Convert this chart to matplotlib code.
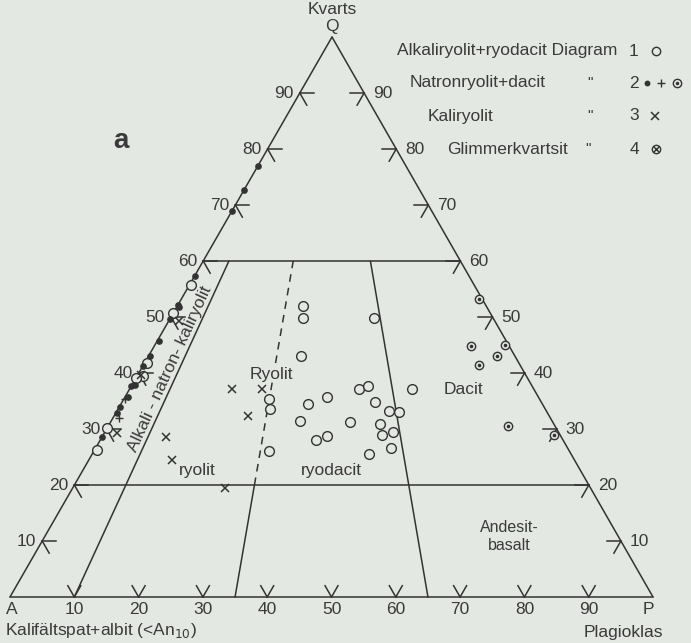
import matplotlib
matplotlib.use("Agg")
import matplotlib.pyplot as plt
import numpy as np

plt.rcParams['font.family'] = ['Liberation Sans', 'DejaVu Sans']

# ---------------- data (Q %, P %) ; A = 100 - Q - P ----------------
# 1: Alkaliryolit + ryodacit (open circles)
alk_Q = [52.0, 49.9, 49.9, 43.0, 35.3, 33.5, 26.1, 34.4, 35.7, 31.5, 28.0, 28.75,
         37.1, 37.6, 37.1, 34.8, 33.2, 33.0, 31.3, 30.9, 29.5, 29.0, 26.6, 25.5,
         55.8, 50.7, 41.8, 39.5, 39.05, 30.1, 26.3]
alk_P = [19.5, 20.6, 31.6, 23.8, 22.6, 23.7, 27.2, 29.1, 31.4, 29.4, 33.5, 34.9,
         35.7, 36.9, 43.9, 39.4, 42.3, 44.0, 37.2, 42.0, 44.8, 43.4, 46.0, 43.0,
         0.2, 0.0, 0.3, 0.9, 0.0, 0.0, 0.3]
# 2: Natronryolit + dacit (filled dots, plus, dotted circles)
nat_dot_Q = [77.0, 72.7, 69.0, 57.3, 52.1, 51.8, 49.6, 45.8, 43.0, 41.25, 37.9,
             37.6, 35.8, 34.0, 32.8, 28.6]
nat_dot_P = [0.0, 0.0, 0.0, 0.0, 0.0, 0.4, 0.0, 0.3, 0.2, 0.0, 0.5,
             0.0, 0.5, 0.1, 0.2, 0.0]
nat_plus_Q = [31.9, 35.3]
nat_plus_P = [0.9, 0.2]
dac_Q = [53.2, 44.8, 45.0, 43.1, 41.5, 30.6, 29.0]
dac_P = [46.3, 49.3, 54.4, 54.2, 52.2, 62.2, 70.1]
# 3: Kaliryolit (crosses)
kali_Q = [37.1, 37.1, 32.4, 29.2, 28.6, 24.5, 19.5, 39.6, 49.2]
kali_P = [15.9, 20.6, 20.8, 2.0, 9.9, 12.9, 23.7, 0.5, 1.7]

tick_vals = [10, 20, 30, 40, 50, 60, 70, 80, 90]

# ---------------- geometry ----------------
VA = np.array([10.0, 597.0])
VP = np.array([653.0, 597.0])
VQ = np.array([332.0, 37.0])

def tern(q, p):
    q = np.asarray(q, float); p = np.asarray(p, float)
    a = 100.0 - q - p
    x = (a * VA[0] + p * VP[0] + q * VQ[0]) / 100.0
    y = (a * VA[1] + p * VP[1] + q * VQ[1]) / 100.0
    return x, y

def unit(v):
    return v / np.linalg.norm(v)

BG = '#e4e8e2'
LC = '#333333'
TC = '#3a3a3a'
FS = 12.5

fig = plt.figure(figsize=(6.91, 6.43), dpi=100, facecolor=BG)
ax = fig.add_axes([0, 0, 1, 1])
ax.set_facecolor(BG)
ax.set_xlim(0, 691)
ax.set_ylim(643, 0)
ax.axis('off')

lw = 1.1

def seg(q1, p1, q2, p2, **kw):
    x1, y1 = tern(q1, p1); x2, y2 = tern(q2, p2)
    ax.plot([x1, x2], [y1, y2], color=LC, lw=kw.pop('lw', lw), solid_capstyle='round', **kw)

# triangle
seg(0, 0, 0, 100); seg(0, 100, 100, 0); seg(100, 0, 0, 0)
# field boundaries
seg(60, 0, 60, 40)
seg(20, 0, 20, 80)
seg(0, 10, 60, 4)
seg(0, 35, 20, 28)
seg(20, 28, 60, 14, linestyle=(0, (5, 4)))
seg(0, 65, 60, 26)

# ticks
tl = 14
dAP = unit(VP - VA); dQP = unit(VP - VQ); dQA = unit(VA - VQ)
dAQ = unit(VQ - VA); dPQ = unit(VQ - VP); dPA = unit(VA - VP)
for v in tick_vals:
    # left side
    x, y = tern(v, 0)
    for d in (dAP, dQP):
        ax.plot([x, x + tl * d[0]], [y, y + tl * d[1]], color=LC, lw=lw)
    ax.text(x - 6, y, str(v), ha='right', va='center', fontsize=FS, color=TC)
    # right side
    x, y = tern(v, 100 - v)
    for d in (dPA, dQA):
        ax.plot([x, x + tl * d[0]], [y, y + tl * d[1]], color=LC, lw=lw)
    ax.text(x + 9, y, str(v), ha='left', va='center', fontsize=FS, color=TC)
    # bottom
    x, y = tern(0, v)
    for d in (dAQ, dPQ):
        ax.plot([x, x + 13 * d[0]], [y, y + 13 * d[1]], color=LC, lw=lw)
    ax.text(x, y + 5, str(v), ha='center', va='top', fontsize=FS, color=TC)

# corner labels
ax.text(VA[0] + 2, VA[1] + 5, 'A', ha='center', va='top', fontsize=FS, color=TC)
ax.text(VP[0] - 5, VP[1] + 5, 'P', ha='center', va='top', fontsize=FS, color=TC)
ax.text(VQ[0], 27, 'Q', ha='center', va='center', fontsize=FS, color=TC)
ax.text(VQ[0], 10, 'Kvarts', ha='center', va='center', fontsize=12.5, color=TC)
ax.text(5, 630, r'Kalifältspat+albit (<An$_{10}$)', ha='left', va='center', fontsize=FS, color=TC)
ax.text(663, 632, 'Plagioklas', ha='right', va='center', fontsize=FS, color=TC)

# field names
ax.text(121, 141, 'a', ha='center', va='center', fontsize=20, fontweight='bold', color=TC)
ax.text(271, 374, 'Ryolit', ha='center', va='center', fontsize=FS, color=TC, zorder=4,
        bbox=dict(boxstyle='square,pad=0.05', fc=BG, ec='none'))
ax.text(331, 470, 'ryodacit', ha='center', va='center', fontsize=FS, color=TC)
ax.text(197, 470, 'ryolit', ha='center', va='center', fontsize=FS, color=TC)
ax.text(463, 390, 'Dacit', ha='center', va='center', fontsize=FS, color=TC)
ax.text(509, 528, 'Andesit-', ha='center', va='center', fontsize=11.5, color=TC)
ax.text(509, 546, 'basalt', ha='center', va='center', fontsize=11.5, color=TC)
ax.text(170, 369, 'Alkali - natron- kaliryolit', ha='center', va='center', rotation=65.3,
        rotation_mode='anchor', fontsize=12.5, color=TC)

# legend
ly = [51, 83, 116, 149]
ax.text(397, ly[0], 'Alkaliryolit+ryodacit Diagram', ha='left', va='center', fontsize=FS, color=TC)
ax.text(410, ly[1], 'Natronryolit+dacit', ha='left', va='center', fontsize=FS, color=TC)
ax.text(428, ly[2], 'Kaliryolit', ha='left', va='center', fontsize=FS, color=TC)
ax.text(447, ly[3], 'Glimmerkvartsit', ha='left', va='center', fontsize=FS, color=TC)
for yy, q in zip(ly[1:], [590, 590, 588]):
    ax.text(q, yy, '"', ha='center', va='center', fontsize=11, color=TC)
for yy, n in zip(ly, ['1', '2', '3', '4']):
    ax.text(634, yy, n, ha='center', va='center', fontsize=FS, color=TC)

ms_o = 7
ax.plot([656], [ly[0]], 'o', mfc='none', mec=LC, ms=ms_o - 1, mew=1.0)
ax.plot([647], [ly[1]], 'o', color=LC, ms=3.2)
ax.plot([661], [ly[1]], '+', color=LC, ms=6, mew=1.0)
ax.plot([677], [ly[1]], 'o', mfc='none', mec=LC, ms=6, mew=1.0)
ax.plot([677], [ly[1]], 'o', color=LC, ms=1.5)
ax.plot([655], [ly[2]], 'x', color=LC, ms=6, mew=1.1)
ax.plot([656], [ly[3]], 'o', mfc='none', mec=LC, ms=6, mew=1.0)
ax.plot([656], [ly[3]], 'x', color=LC, ms=4, mew=1.0)

# data points
x, y = tern(alk_Q, alk_P)
ax.plot(x, y, 'o', mfc=BG, mec=LC, ms=ms_o, mew=1.0, ls='none', zorder=5)
x, y = tern(nat_dot_Q, nat_dot_P)
ax.plot(x, y, 'o', color=LC, ms=3.8, ls='none', zorder=6)
x, y = tern(nat_plus_Q, nat_plus_P)
ax.plot(x, y, '+', color=LC, ms=6, mew=1.0, ls='none', zorder=6)
x, y = tern(dac_Q, dac_P)
ax.plot(x, y, 'o', mfc=BG, mec=LC, ms=6, mew=1.0, ls='none', zorder=5)
ax.plot(x, y, 'o', color=LC, ms=1.6, ls='none', zorder=6)
x, y = tern(kali_Q, kali_P)
ax.plot(x, y, 'x', color=LC, ms=6, mew=1.1, ls='none', zorder=6)

fig.savefig('out.png', dpi=100, facecolor=BG)
